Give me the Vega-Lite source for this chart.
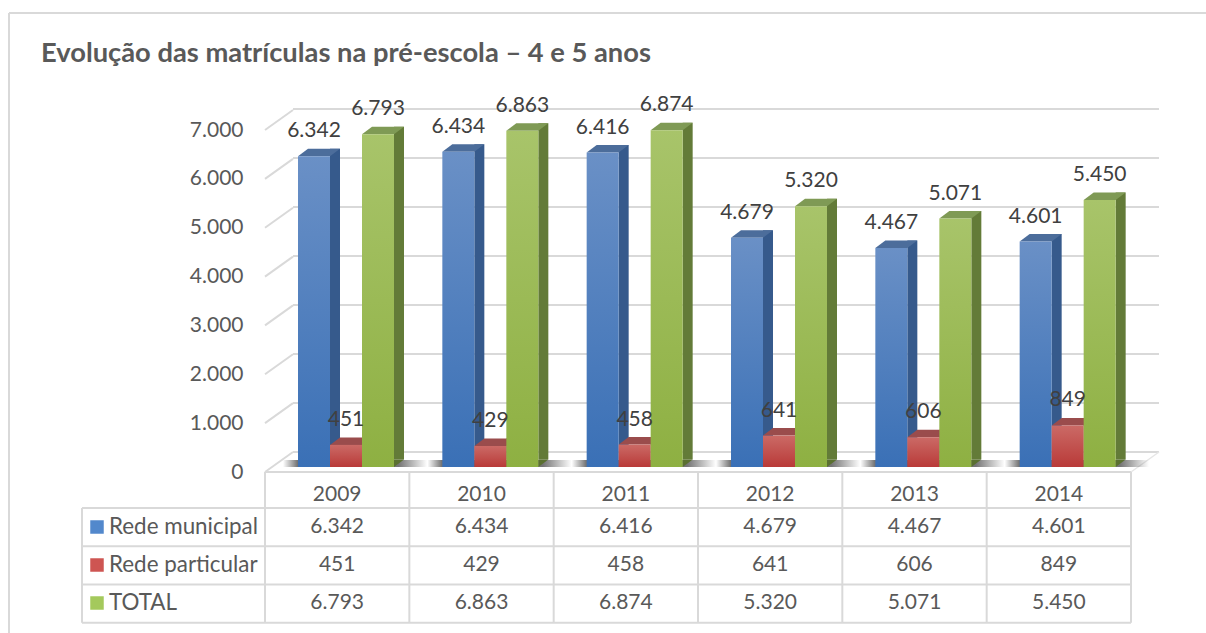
{
"$schema":"https://vega.github.io/schema/vega-lite/v6.json",
"width":1206,"height":633,"padding":0,"autosize":"none","background":"white",
"config":{"view":{"stroke":null},"font":"Lato","text":{"font":"Lato"}},
"title":{"text":"Evolução das matrículas na pré-escola – 4 e 5 anos","anchor":"start","frame":"group","dx":41,"offset":-67,"fontSize":27.3,"font":"Lato","fontWeight":"bold","color":"#595959"},
"datasets":{
"d":[
{"year":"2009","series":"Rede municipal","value":6342,"label":"6.342"},{"year":"2009","series":"Rede particular","value":451,"label":"451"},{"year":"2009","series":"TOTAL","value":6793,"label":"6.793"},
{"year":"2010","series":"Rede municipal","value":6434,"label":"6.434"},{"year":"2010","series":"Rede particular","value":429,"label":"429"},{"year":"2010","series":"TOTAL","value":6863,"label":"6.863"},
{"year":"2011","series":"Rede municipal","value":6416,"label":"6.416"},{"year":"2011","series":"Rede particular","value":458,"label":"458"},{"year":"2011","series":"TOTAL","value":6874,"label":"6.874"},
{"year":"2012","series":"Rede municipal","value":4679,"label":"4.679"},{"year":"2012","series":"Rede particular","value":641,"label":"641"},{"year":"2012","series":"TOTAL","value":5320,"label":"5.320"},
{"year":"2013","series":"Rede municipal","value":4467,"label":"4.467"},{"year":"2013","series":"Rede particular","value":606,"label":"606"},{"year":"2013","series":"TOTAL","value":5071,"label":"5.071"},
{"year":"2014","series":"Rede municipal","value":4601,"label":"4.601"},{"year":"2014","series":"Rede particular","value":849,"label":"849"},{"year":"2014","series":"TOTAL","value":5450,"label":"5.450"}],
"years":[{"year":"2009"},{"year":"2010"},{"year":"2011"},{"year":"2012"},{"year":"2013"},{"year":"2014"}],
"ticks":[{"tick":0},{"tick":1000},{"tick":2000},{"tick":3000},{"tick":4000},{"tick":5000},{"tick":6000},{"tick":7000}],
"series":[{"series":"Rede municipal"},{"series":"Rede particular"},{"series":"TOTAL"}],
"hlines":[{"line":0,"from":0},{"line":1,"from":-1},{"line":2,"from":-1},{"line":3,"from":-1},{"line":4,"from":-1}],
"vlines":[{"col":-1,"from":1},{"col":0,"from":0},{"col":1,"from":0},{"col":2,"from":0},{"col":3,"from":0},{"col":4,"from":0},{"col":5,"from":0},{"col":6,"from":0}],
"one":[{"n":1}]
},
"resolve":{"scale":{"x":"independent","y":"independent","xOffset":"independent","color":"independent"}},
"layer":[
{"data":{"name":"one"},"mark":{"type":"rule","color":"#d9d9d9","strokeWidth":2},
 "encoding":{"x":{"datum":0,"scale":{"domain":[0,1],"range":[9,1206]},"axis":null},"x2":{"datum":1},"y":{"datum":0,"scale":{"domain":[0,1],"range":[13,633]},"axis":null}}},
{"data":{"name":"one"},"mark":{"type":"rule","color":"#d9d9d9","strokeWidth":2},
 "encoding":{"x":{"datum":0,"scale":{"domain":[0,1],"range":[9,1206]},"axis":null},"y":{"datum":0,"scale":{"domain":[0,1],"range":[13,633]},"axis":null},"y2":{"datum":1}}},
{"data":{"name":"ticks"},"mark":{"type":"rule","color":"#d9d9d9","strokeWidth":2},
 "encoding":{"x":{"datum":0,"scale":{"domain":[0,1],"range":[293,1159]},"axis":null},"x2":{"datum":1},"y":{"field":"tick","type":"quantitative","scale":{"domain":[0,7000],"range":[452,109]},"axis":null}}},
{"data":{"name":"ticks"},"mark":{"type":"point","shape":"M0,0 L1.4,-1","size":1600,"filled":false,"stroke":"#d9d9d9","strokeWidth":2,"opacity":1},
 "encoding":{"x":{"datum":0,"scale":{"domain":[0,1],"range":[265,1159]},"axis":null},
  "y":{"field":"tick","type":"quantitative","scale":{"domain":[0,7000],"range":[472,130]},
   "axis":{"orient":"left","offset":-243,"values":[0,1000,2000,3000,4000,5000,6000,7000],"domain":false,"ticks":false,"grid":false,"title":null,"labelPadding":0,"labelFontSize":21,"labelFont":"Lato","labelColor":"#595959","labelExpr":"replace(format(datum.value,','),',','.')"}}}},
{"data":{"name":"one"},"mark":{"type":"point","shape":"M0,0 L1.4,-1","size":1600,"filled":false,"stroke":"#e6e6e6","strokeWidth":1.5,"opacity":1},
 "encoding":{"x":{"datum":1,"scale":{"domain":[0,1],"range":[0,1131]},"axis":null},"y":{"datum":0,"scale":{"domain":[0,1],"range":[472,0]},"axis":null}}},
{"data":{"name":"years"},"mark":{"type":"rect","fill":{"gradient":"linear","x1":0,"y1":0,"x2":1,"y2":0,"stops":[{"offset":0,"color":"rgba(70,70,70,0)"},{"offset":0.1,"color":"rgba(70,70,70,0.75)"},{"offset":0.8,"color":"rgba(70,70,70,0.75)"},{"offset":1,"color":"rgba(70,70,70,0)"}]}},
 "encoding":{"x":{"field":"year","type":"nominal","scale":{"type":"band","range":[283,1149],"paddingInner":0,"paddingOuter":0},"axis":null},
  "y":{"datum":0,"scale":{"domain":[0,1],"range":[467,460]},"axis":null},"y2":{"datum":1}}},

{"data":{"name":"d"},"mark":{"type":"bar"},
 "encoding":{"x":{"field":"year","type":"nominal","scale":{"type":"band","range":[265,1131],"paddingInner":0,"paddingOuter":0},"axis":null},
  "xOffset":{"field":"series","scale":{"domain":["Rede municipal","Rede particular","TOTAL"],"range":[65,139],"paddingInner":0.6875,"paddingOuter":0}},
  "y":{"field":"value","type":"quantitative","scale":{"domain":[0,7000],"range":[459.5,116.5]},"axis":null},
  "color":{"field":"series","legend":null,"scale":{"domain":["Rede municipal","Rede particular","TOTAL"],"range":["#365a8c","#8a3433","#637b38"]}}}},
{"data":{"name":"d"},"mark":{"type":"point","shape":"M1.6,0 L2.6,-0.75 L1.6,-0.75 Z","size":400,"filled":true,"opacity":1,"strokeWidth":0},
 "encoding":{"x":{"field":"year","type":"nominal","scale":{"type":"band","range":[265,1131],"paddingInner":0,"paddingOuter":0},"axis":null},
  "xOffset":{"field":"series","scale":{"domain":["Rede municipal","Rede particular","TOTAL"],"range":[49,113],"paddingOuter":0,"paddingInner":0}},
  "y":{"datum":0,"scale":{"domain":[0,1],"range":[467,0]},"axis":null},
  "color":{"field":"series","legend":null,"scale":{"domain":["Rede municipal","Rede particular","TOTAL"],"range":["#365a8c","#8a3433","#5a7030"]}}}},
{"data":{"name":"d"},"mark":{"type":"point","shape":"M-1.6,0 L1.6,0 L2.6,-0.75 L-0.6,-0.75 Z","size":400,"filled":true,"opacity":1,"strokeWidth":0},
 "encoding":{"x":{"field":"year","type":"nominal","scale":{"type":"band","range":[265,1131],"paddingInner":0,"paddingOuter":0},"axis":null},
  "xOffset":{"field":"series","scale":{"domain":["Rede municipal","Rede particular","TOTAL"],"range":[49,113],"paddingOuter":0,"paddingInner":0}},
  "y":{"field":"value","type":"quantitative","scale":{"domain":[0,7000],"range":[467,124]},"axis":null},
  "color":{"field":"series","legend":null,"scale":{"domain":["Rede municipal","Rede particular","TOTAL"],"range":["#4c6d9b","#9a4c4c","#7f9a55"]}}}},

{"data":{"name":"d"},"transform":[{"filter":"datum.series==='Rede municipal'"}],
 "mark":{"type":"bar","fill":{"gradient":"linear","x1":0,"y1":0,"x2":0,"y2":1,"stops":[{"offset":0,"color":"#6a90c6"},{"offset":1,"color":"#3a70b6"}]}},
 "encoding":{"x":{"field":"year","type":"nominal","scale":{"type":"band","range":[265,1131],"paddingInner":0,"paddingOuter":0},"axis":null},
  "xOffset":{"field":"series","scale":{"domain":["Rede municipal","Rede particular","TOTAL"],"range":[33,129],"paddingInner":0,"paddingOuter":0}},
  "y":{"field":"value","type":"quantitative","scale":{"domain":[0,7000],"range":[467,124]},"axis":null}}},
{"data":{"name":"d"},"transform":[{"filter":"datum.series==='Rede particular'"}],
 "mark":{"type":"bar","fill":{"gradient":"linear","x1":0,"y1":0,"x2":0,"y2":1,"stops":[{"offset":0,"color":"#cb6a66"},{"offset":1,"color":"#b93a38"}]}},
 "encoding":{"x":{"field":"year","type":"nominal","scale":{"type":"band","range":[265,1131],"paddingInner":0,"paddingOuter":0},"axis":null},
  "xOffset":{"field":"series","scale":{"domain":["Rede municipal","Rede particular","TOTAL"],"range":[33,129],"paddingInner":0,"paddingOuter":0}},
  "y":{"field":"value","type":"quantitative","scale":{"domain":[0,7000],"range":[467,124]},"axis":null}}},
{"data":{"name":"d"},"transform":[{"filter":"datum.series==='TOTAL'"}],
 "mark":{"type":"bar","fill":{"gradient":"linear","x1":0,"y1":0,"x2":0,"y2":1,"stops":[{"offset":0,"color":"#a8c46a"},{"offset":1,"color":"#8eb042"}]}},
 "encoding":{"x":{"field":"year","type":"nominal","scale":{"type":"band","range":[265,1131],"paddingInner":0,"paddingOuter":0},"axis":null},
  "xOffset":{"field":"series","scale":{"domain":["Rede municipal","Rede particular","TOTAL"],"range":[33,129],"paddingInner":0,"paddingOuter":0}},
  "y":{"field":"value","type":"quantitative","scale":{"domain":[0,7000],"range":[467,124]},"axis":null}}},

{"data":{"name":"d"},"mark":{"type":"text","font":"Lato","fontSize":21,"color":"#404040","baseline":"middle","dy":-25},
 "encoding":{"x":{"field":"year","type":"nominal","scale":{"type":"band","range":[265,1131],"paddingInner":0,"paddingOuter":0},"axis":null},
  "xOffset":{"field":"series","scale":{"domain":["Rede municipal","Rede particular","TOTAL"],"range":[49,113],"paddingOuter":0,"paddingInner":0}},
  "y":{"field":"value","type":"quantitative","scale":{"domain":[0,7000],"range":[467,124]},"axis":null},
  "text":{"field":"label"}}},

{"data":{"name":"hlines"},"mark":{"type":"rule","color":"#d9d9d9","strokeWidth":2},
 "encoding":{"x":{"field":"from","type":"quantitative","scale":{"domain":[-1,0,6],"range":[82,265,1131]},"axis":null},"x2":{"datum":6},
  "y":{"field":"line","type":"quantitative","scale":{"domain":[0,1,4],"range":[472,508,622.7]},"axis":null}}},
{"data":{"name":"vlines"},"mark":{"type":"rule","color":"#d9d9d9","strokeWidth":2},
 "encoding":{"x":{"field":"col","type":"quantitative","scale":{"domain":[-1,0,6],"range":[82,265,1131]},"axis":null},
  "y":{"field":"from","type":"quantitative","scale":{"domain":[0,1,4],"range":[472,508,622.7]},"axis":null},"y2":{"datum":4}}},
{"data":{"name":"years"},"mark":{"type":"text","font":"Lato","fontSize":21,"color":"#595959","baseline":"middle"},
 "encoding":{"x":{"field":"year","type":"nominal","scale":{"type":"band","range":[265,1131],"paddingInner":0,"paddingOuter":0},"axis":null},
  "y":{"datum":0,"scale":{"domain":[0,1],"range":[495,0]},"axis":null},"text":{"field":"year"}}},
{"data":{"name":"d"},"mark":{"type":"text","font":"Lato","fontSize":21,"color":"#595959","baseline":"middle"},
 "encoding":{"x":{"field":"year","type":"nominal","scale":{"type":"band","range":[265,1131],"paddingInner":0,"paddingOuter":0},"axis":null},
  "y":{"field":"series","type":"nominal","scale":{"type":"point","domain":["Rede municipal","Rede particular","TOTAL"],"range":[527,603],"padding":0},"axis":null},"text":{"field":"label"}}},
{"data":{"name":"series"},"mark":{"type":"text","font":"Lato","fontSize":22.4,"color":"#595959","baseline":"middle","align":"left"},
 "encoding":{"x":{"datum":0,"scale":{"domain":[0,1],"range":[109,1206]},"axis":null},
  "y":{"field":"series","type":"nominal","scale":{"type":"point","domain":["Rede municipal","Rede particular","TOTAL"],"range":[527,603],"padding":0},"axis":null},"text":{"field":"series"}}},
{"data":{"name":"series"},"mark":{"type":"point","shape":"square","size":182,"filled":true,"opacity":1,"strokeWidth":0},
 "encoding":{"x":{"datum":0,"scale":{"domain":[0,1],"range":[97,1206]},"axis":null},
  "y":{"field":"series","type":"nominal","scale":{"type":"point","domain":["Rede municipal","Rede particular","TOTAL"],"range":[527,603],"padding":0},"axis":null},
  "color":{"field":"series","legend":null,"scale":{"domain":["Rede municipal","Rede particular","TOTAL"],"range":["#5288cc","#ce5552","#a4c95c"]}}}}
]
}
